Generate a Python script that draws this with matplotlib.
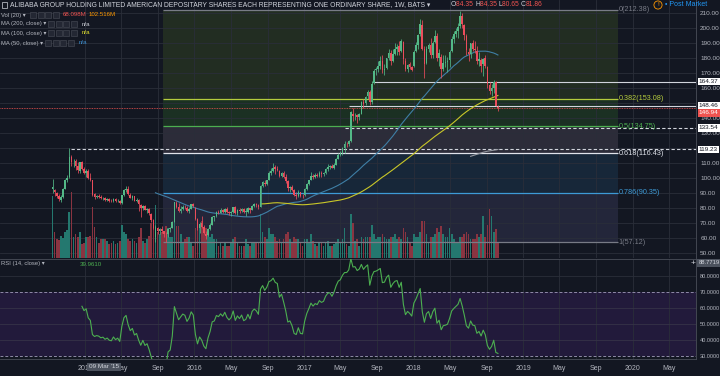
import numpy as np
import pandas as pd
import matplotlib
matplotlib.use("Agg")
import matplotlib.pyplot as plt
import matplotlib.dates as mdates
from matplotlib.patches import Rectangle
from matplotlib.transforms import blended_transform_factory

plt.rcParams['font.family'] = ['Liberation Sans', 'DejaVu Sans']

# weekly bars (Mondays) starting 2014-09-15
first_week = "2014-09-15"
opens = [
    92.7, 92.0, 89.9,  88.3, 85.1, 87.6, 93.0,  98.6, 100.5, 114.0, 111.2,  111.3, 108.0, 105.0, 110.5, 106.0,
    103.5, 104.5, 100.0, 98.5,  89.5, 87.5, 88.0, 87.6,  86.5, 86.8, 85.5, 86.0, 84.8,  84.5, 85.8, 84.5, 85.0,
    83.5, 88.5, 92.0, 93.0,  89.0, 87.0, 87.8, 85.0, 85.5,  82.0, 80.0, 81.5, 79.0,  79.5, 76.0, 72.0, 61.0, 67.0,
    64.5, 66.0, 64.5, 63.0,  62.5, 66.0, 66.8, 71.0,  83.5, 81.0, 78.0, 79.5, 81.0,  80.0, 78.0, 79.5, 82.5,
    80.0, 72.5, 66.5, 70.0,  67.5, 63.0, 62.0, 66.0, 69.0,  74.0, 74.5, 77.5, 77.0,  78.5, 77.5, 79.5, 77.5,
    76.5, 77.5, 80.5, 77.0, 79.0,  78.0, 79.5, 77.5, 77.5,  80.0, 79.0, 81.5, 82.5,  82.0, 81.0, 95.0, 97.0, 96.0,
    99.0, 103.5, 104.5, 107.5,  106.0, 105.0, 101.5, 103.5, 101.0,  98.0, 93.5, 94.0, 92.0,  88.5, 88.0, 90.5, 88.0,
    88.5, 92.5, 96.0, 99.0, 101.5,  100.5, 102.0, 101.5, 103.5,  103.0, 103.5, 106.0, 107.5,  108.0, 107.0, 109.0, 113.0,
    115.5, 116.5, 120.0, 123.0, 123.0,  125.0, 143.0, 142.0, 142.0,  141.0, 143.0, 151.0, 150.0, 154.5,
    157.5, 150.5, 163.5, 172.0,  173.0, 175.0, 178.0, 172.0,  173.5, 180.5, 183.5, 178.0, 183.0,
    186.0, 188.0, 185.0, 191.0,  178.0, 172.5, 176.0, 174.0,
    175.0, 185.0, 189.0, 196.0, 202.0,  186.0, 177.0, 186.0, 189.0,  182.0, 191.0, 195.0, 180.5,
    181.0, 173.0, 177.0, 177.5, 179.0,  185.0, 193.0, 196.0, 198.5,  201.5, 208.0, 202.0, 195.0,
    184.0, 183.0, 190.0, 186.0, 185.0,  178.0, 179.0, 176.0, 180.0,  174.0, 162.0, 158.0, 160.0,  164.0, 147.5,
]
highs = [
    99.7, 92.9, 90.4,  89.7, 88.5, 93.5, 99.6,  102.0, 120.0, 115.5, 112.9,  112.5, 110.5, 111.0, 111.5, 107.5,
    106.3, 105.8, 103.5, 99.0,  89.9, 89.0, 89.2, 88.7,  87.5, 87.4, 86.8, 86.5, 86.0,  86.5, 86.9, 85.8, 85.5,
    89.0, 92.5, 94.6, 94.5,  89.8, 88.5, 88.0, 86.5, 85.8,  83.0, 82.0, 82.0, 80.0,  80.0, 77.0, 72.5, 68.5, 67.5,
    66.5, 68.0, 65.0, 63.8,  66.5, 67.5, 71.5, 84.0,  84.5, 83.4, 81.5, 82.0, 82.2,  81.5, 80.5, 83.0, 83.3,
    80.5, 73.5, 70.5, 74.8,  69.0, 64.5, 66.5, 69.7, 74.5,  75.0, 77.8, 78.6, 79.8,  79.5, 80.0, 80.5, 78.0,
    78.3, 81.0, 81.5, 79.5, 79.8,  80.3, 79.8, 80.0, 80.5,  80.3, 82.0, 83.5, 83.5,  82.8, 95.5, 98.0, 98.5, 99.0,
    105.0, 106.5, 109.9, 108.5,  108.0, 105.5, 104.0, 104.5, 103.0,  98.6, 95.0, 95.5, 93.0,  90.5, 92.0, 91.0, 89.5,
    93.5, 96.8, 99.0, 104.0, 102.5,  103.5, 103.5, 104.5, 104.5,  104.0, 106.5, 109.5, 108.5,  109.5, 110.0, 113.5, 116.5,
    118.0, 121.0, 124.5, 124.0, 125.5,  145.0, 146.5, 143.5, 143.0,  143.5, 151.5, 153.0, 155.0, 158.5,
    158.5, 165.0, 172.5, 174.5,  178.5, 181.5, 182.0, 176.5,  180.5, 186.0, 185.5, 186.5, 190.0,
    189.5, 191.8, 193.0, 191.5,  180.0, 176.5, 177.5, 175.0,
    185.5, 191.0, 196.5, 206.2, 205.5,  188.0, 188.0, 190.0, 193.5,  191.5, 199.0, 197.0, 186.0,
    183.0, 182.0, 182.5, 181.0, 185.5,  195.0, 198.5, 200.0, 203.5,  211.7, 210.0, 203.0, 196.0,
    187.0, 190.5, 192.5, 191.5, 188.0,  184.5, 180.0, 180.5, 182.0,  175.0, 164.0, 163.0, 165.5,  164.5, 148.5,
]
lows = [
    89.95, 88.2, 86.6,  85.0, 84.1, 87.0, 92.5,  97.2, 99.8, 108.0, 107.6,  105.6, 103.5, 103.2, 105.5, 103.0,
    101.0, 99.5, 98.0, 88.0,  86.0, 86.5, 86.8, 85.8,  85.6, 84.8, 84.9, 84.2, 83.8,  84.0, 84.0, 83.8, 83.0,
    82.8, 88.0, 91.0, 88.5,  86.5, 85.5, 84.5, 84.0, 78.0,  74.0, 79.0, 78.5, 76.5,  75.5, 70.5, 66.0, 57.2, 63.0,
    63.0, 63.5, 61.0, 57.4,  60.5, 64.0, 66.5, 70.5,  80.0, 77.5, 76.5, 78.5, 79.5,  77.5, 76.5, 79.2, 80.5,
    72.0, 65.5, 63.5, 66.5,  62.5, 59.3, 61.5, 65.5, 68.5,  71.5, 74.0, 76.0, 76.5,  76.5, 77.0, 77.0, 75.5,
    75.0, 76.5, 76.0, 75.5, 76.8,  77.5, 76.5, 75.0, 76.5,  76.8, 78.5, 80.5, 80.5,  79.5, 80.5, 94.0, 94.5, 95.5,
    98.5, 102.0, 104.0, 103.0,  104.5, 100.5, 100.5, 100.0, 96.5,  91.5, 90.5, 91.5, 88.0,  86.3, 87.5, 87.5, 86.5,
    88.3, 92.0, 95.5, 98.5, 99.5,  100.0, 100.5, 100.5, 101.0,  101.5, 103.0, 105.0, 106.0,  106.5, 106.0, 108.5, 112.5,
    114.5, 115.5, 116.5, 121.0, 121.5,  124.0, 138.0, 139.0, 137.0,  138.5, 142.5, 146.5, 148.5, 153.0,
    149.0, 149.5, 162.5, 169.0,  170.5, 173.0, 170.0, 168.5,  172.5, 179.0, 175.5, 177.5, 182.0,
    182.0, 182.5, 184.5, 176.5,  171.5, 170.5, 172.5, 171.5,
    174.5, 184.0, 186.5, 195.0, 185.5,  166.5, 176.0, 184.0, 180.5,  180.5, 190.0, 178.5, 175.0,
    166.5, 171.5, 174.5, 170.5, 174.5,  184.5, 190.0, 194.5, 193.5,  200.5, 200.0, 192.5, 182.0,
    178.0, 180.5, 185.0, 183.5, 176.5,  175.0, 170.5, 168.0, 173.5,  160.0, 156.0, 155.0, 157.0,  148.0, 144.5,
]
closes = [
    93.89, 90.6, 88.1,  86.0, 87.5, 92.9, 98.6,  100.2, 114.0, 111.0, 111.6,  108.4, 105.4, 110.5, 106.0, 103.6,
    105.0, 100.0, 98.5, 89.0,  87.5, 88.0, 87.6, 86.5,  86.8, 85.5, 86.0, 84.8, 84.5,  85.8, 84.5, 85.0, 83.5,
    88.5, 92.0, 93.0, 89.5,  87.0, 87.8, 85.0, 85.5, 82.5,  80.0, 81.5, 79.0, 79.5,  76.5, 72.0, 67.0, 67.5, 65.0,
    66.0, 64.5, 63.0, 62.5,  66.0, 66.5, 70.5, 83.8,  81.0, 78.0, 79.5, 81.0, 80.5,  78.0, 79.5, 82.5, 81.3,
    72.5, 66.5, 69.5, 67.5,  63.5, 61.5, 66.0, 69.0, 74.0,  74.5, 77.5, 77.0, 78.5,  77.5, 79.5, 77.5, 76.5,
    77.5, 80.5, 77.0, 79.0, 78.0,  79.5, 77.5, 78.0, 80.0,  78.5, 81.5, 82.5, 82.0,  81.0, 94.5, 97.5, 96.0, 98.5,
    103.5, 104.5, 107.0, 105.8,  105.5, 101.5, 103.5, 101.0, 98.0,  93.5, 94.0, 92.0, 88.5,  88.0, 90.5, 88.0, 87.8,
    92.5, 96.0, 98.5, 101.5, 100.5,  101.8, 101.5, 103.5, 103.0,  103.5, 106.0, 107.5, 107.8,  107.0, 109.0, 112.5, 115.5,
    116.5, 120.0, 122.5, 122.5, 125.0,  144.0, 141.5, 142.0, 140.9,  143.0, 151.0, 149.5, 154.0, 157.5,
    150.5, 163.0, 171.5, 172.5,  175.0, 178.0, 172.0, 172.7,  180.0, 183.5, 178.0, 183.0, 186.5,
    187.5, 184.5, 191.2, 179.5,  172.5, 175.5, 174.2, 172.4,
    184.5, 189.0, 195.5, 203.0, 186.5,  176.5, 186.5, 189.0, 182.5,  190.5, 195.0, 180.0, 183.5,
    172.5, 177.0, 177.5, 178.5, 184.5,  193.0, 196.0, 198.5, 201.0,  208.5, 203.0, 195.5, 185.5,
    183.0, 190.0, 186.0, 185.5, 178.0,  179.5, 175.0, 179.5, 175.0,  163.0, 158.0, 160.0, 164.4,  148.46, 146.94,
]
volume_m = [
    280, 120, 85,  80, 100, 90, 120,  125, 210, 300, 95,  110, 95, 120, 65, 70,
    95, 95, 100, 230,  140, 95, 70, 85,  85, 85, 75, 65, 70,  75, 65, 70, 75,
    150, 120, 110, 85,  75, 85, 75, 70, 95,  135, 75, 70, 85,  100, 160, 170, 240, 120,
    110, 120, 120, 145,  135, 95, 95, 230,  145, 145, 110, 70, 85,  95, 95, 70, 55,
    135, 160, 145, 170,  135, 135, 110, 95, 110,  85, 85, 55, 70,  55, 70, 55, 55,
    70, 85, 95, 70, 55,  55, 55, 85, 65,  55, 70, 70, 70,  70, 200, 120, 95, 85,
    135, 110, 110, 95,  75, 85, 70, 85, 110,  120, 85, 70, 95,  85, 85, 70, 55,
    85, 85, 70, 110, 75,  65, 55, 70, 70,  55, 70, 75, 55,  55, 65, 70, 85,
    70, 85, 135, 65, 55,  200, 160, 75, 85,  55, 95, 85, 95, 95,
    95, 150, 110, 85,  95, 95, 110, 95,  85, 85, 95, 95, 110,
    85, 95, 85, 135,  120, 95, 70, 55,
    110, 95, 95, 120, 170,  170, 110, 70, 95,  95, 110, 135, 120,
    145, 110, 95, 95, 135,  110, 85, 70, 70,  95, 95, 110, 120,
    110, 85, 85, 85, 110,  95, 110, 190, 95,  150, 220, 190, 120,  130, 68.098,
]

# fibonacci retracement
fib_ratios = ["0", "0.382", "0.5", "0.618", "0.786", "1"]
fib_prices = [212.38, 153.08, 134.75, 116.43, 90.35, 57.12]
fib_start, fib_end = "2015-09-18", "2019-11-12"

# other horizontal levels (price, start date)
solid_levels = [(164.37, "2017-08-14"), (148.46, "2017-05-30")]
dashed_levels = [(133.54, "2017-05-15"), (119.23, "2014-11-14")]
last_price = 146.94

# right-axis price tags: value, where the tag sits, fill, text colour
price_tags = [(164.37, 164.37, "white", "#131722"), (148.46, 148.46, "white", "#131722"),
              (146.94, 143.6, "#ef5350", "white"), (133.54, 133.54, "white", "#131722"),
              (119.23, 119.23, "white", "#131722")]
hidden_ticks = [120, 150]

tick_dates = ["2015-01-01", "2015-05-01", "2015-09-01", "2016-01-01", "2016-05-01", "2016-09-01",
              "2017-01-01", "2017-05-01", "2017-09-01", "2018-01-01", "2018-05-01", "2018-09-01",
              "2019-01-01", "2019-05-01", "2019-09-01", "2020-01-01", "2020-05-01"]
tick_labels = ["2015", "May", "Sep", "2016", "May", "Sep", "2017", "May", "Sep",
               "2018", "May", "Sep", "2019", "May", "Sep", "2020", "May"]

BG = "#131722"
GRID = "#2a2e39"
TXT = "#b2b5be"
UP, DOWN = "#53b987", "#eb4d5c"

weeks = pd.date_range(first_week, periods=len(closes), freq="W-MON")
xd = mdates.date2num(weeks)
o = np.array(opens); h = np.array(highs); l = np.array(lows); c = np.array(closes)
vol = np.array(volume_m)
cs = pd.Series(c)
ma50 = cs.rolling(50).mean()
ma100 = cs.rolling(100).mean()
ma200 = cs.rolling(200).mean()

# RSI 14, Wilder smoothing seeded with a simple average
chg = np.diff(c)
up_m = np.clip(chg, 0, None)
dn_m = np.clip(-chg, 0, None)
rsi = np.full(len(c), np.nan)
ag, al = up_m[:14].mean(), dn_m[:14].mean()
rsi[14] = 100 - 100 / (1 + ag / al)
for i in range(15, len(c)):
    ag = (ag * 13 + up_m[i - 1]) / 14
    al = (al * 13 + dn_m[i - 1]) / 14
    rsi[i] = 100 - 100 / (1 + ag / al)

W, H = 720, 376
fig = plt.figure(figsize=(W / 100, H / 100), dpi=100, facecolor=BG)
renderer = fig.canvas.get_renderer()


def px(x, y):
    return x / W, 1 - y / H


def ftext(x, y, s, color=TXT, size=5, **kw):
    return fig.text(*px(x, y), s, color=color, fontsize=size, va="center", **kw)


def chain(x, y, pieces, size):
    # draw coloured pieces one after another on one line
    for s, col in pieces:
        t = ftext(x, y, s, color=col, size=size)
        x += t.get_window_extent(renderer).width


rect_p = [0, (H - 258) / H, 696 / W, 258 / H]
ax_bg = fig.add_axes(rect_p, zorder=0)
ax_v = fig.add_axes(rect_p, zorder=1)
ax_p = fig.add_axes(rect_p, zorder=2)
ax_r = fig.add_axes([0, 17 / H, 696 / W, 100 / H], zorder=2)

x0 = mdates.date2num(pd.Timestamp("2014-03-24"))
x1 = mdates.date2num(pd.Timestamp("2020-07-29"))
ylo, yhi = 46.65, 218.9
for a in (ax_bg, ax_v, ax_p, ax_r):
    a.set_xlim(x0, x1)
    for s in a.spines.values():
        s.set_visible(False)
for a in (ax_bg, ax_p):
    a.set_ylim(ylo, yhi)
ax_bg.set_facecolor(BG)
ax_v.patch.set_visible(False)
ax_p.patch.set_visible(False)
ax_v.set_ylim(0, 1170)
ax_v.set_xticks([]); ax_v.set_yticks([])
ax_bg.set_xticks([]); ax_bg.set_yticks([])

tx = mdates.date2num(pd.to_datetime(tick_dates))

# background: fib zones + grid
fx0 = mdates.date2num(pd.Timestamp(fib_start))
fx1 = mdates.date2num(pd.Timestamp(fib_end))
zone_colors = ["#222d22", "#1b3023", "#2c2c39", "#172739", "#23263a"]
for i, zc in enumerate(zone_colors):
    top, bot = fib_prices[i], fib_prices[i + 1]
    ax_bg.add_patch(Rectangle((fx0, bot), fx1 - fx0, top - bot, color=zc, lw=0, zorder=0))
for t in tx:
    ax_bg.axvline(t, color=GRID, lw=0.6, zorder=1)
for p in range(50, 220, 10):
    ax_bg.axhline(p, color=GRID, lw=0.6, zorder=1)

# volume
vcol = np.where(c >= o, "#24786f", "#8a3441")
ax_v.bar(xd, vol, width=5.6, color=vcol, lw=0)

# fib lines and labels
fib_colors = ["#787b86", "#b5cc3d", "#4caf50", "#e0e3eb", "#3d9ad6", "#787b86"]
for r, p, fc in zip(fib_ratios, fib_prices, fib_colors):
    ax_p.hlines(p, fx0, fx1, color=fc, lw=0.9, zorder=2)
    ax_p.text(fx1 + 3, p, f"{r}({p:.2f})", color=fc, fontsize=5.2, va="center", ha="left", zorder=6)

for p, d in solid_levels:
    ax_p.hlines(p, mdates.date2num(pd.Timestamp(d)), x1, color="#d1d4dc", lw=0.8, zorder=2)
for p, d in dashed_levels:
    ax_p.hlines(p, mdates.date2num(pd.Timestamp(d)), x1, color="#d1d4dc", lw=0.8,
                linestyles=(0, (3, 2)), zorder=2)
ax_p.axhline(last_price, color="#ef5350", lw=0.6, ls=(0, (1, 1)), zorder=2)

# moving averages
ax_p.plot(xd, ma50, color="#3f7fa6", lw=0.8, zorder=3)
ax_p.plot(xd, ma100, color="#c9c728", lw=0.8, zorder=3)
ax_p.plot(xd, ma200, color="#9598a1", lw=0.8, zorder=3)

# candles
ccol = np.where(c >= o, UP, DOWN)
ax_p.vlines(xd, l, h, colors=ccol, lw=0.55, zorder=4)
body = np.maximum(np.abs(c - o), 0.3)
ax_p.bar(xd, body, bottom=np.minimum(o, c), width=5.4, color=ccol, lw=0, zorder=5)

# price axis
price_ticks = list(range(50, 220, 10))
ax_p.yaxis.tick_right()
ax_p.set_yticks(price_ticks)
ax_p.set_yticklabels(["" if v in hidden_ticks else f"{v:.2f}" for v in price_ticks])
ax_p.tick_params(axis="y", length=0, pad=3, labelsize=4.6, labelcolor=TXT)
ax_p.set_xticks([])
ax_p.spines["right"].set_visible(True)
ax_p.spines["right"].set_color("#4a4e59")
ax_p.spines["right"].set_linewidth(0.6)

bt = blended_transform_factory(ax_p.transAxes, ax_p.transData)
for val, ypos, fc, tc in price_tags:
    ax_p.text(1.004, ypos, f"{val:.2f}", transform=bt, fontsize=4.6, color=tc, va="center", ha="left",
              bbox=dict(boxstyle="square,pad=0.2", fc=fc, ec="none"), zorder=10, clip_on=False)

# RSI pane
ax_r.set_facecolor(BG)
ax_r.set_ylim(28.1, 90.4)
ax_r.axhspan(30, 70, color="#221a3b", lw=0, zorder=0)
for t in tx:
    ax_r.axvline(t, color=GRID, lw=0.6, zorder=1)
for v in (40, 50, 60, 80):
    ax_r.axhline(v, color="#363248" if v < 70 else GRID, lw=0.6, zorder=1)
for v in (30, 70):
    ax_r.axhline(v, color="#8f8aa8", lw=0.7, ls=(0, (3, 2)), zorder=2)
ax_r.plot(xd, rsi, color="#4caf50", lw=0.8, zorder=3)
ax_r.yaxis.tick_right()
ax_r.set_yticks([30, 40, 50, 60, 70, 80])
ax_r.set_yticklabels([f"{v:.4f}" for v in (30, 40, 50, 60, 70, 80)])
ax_r.tick_params(axis="y", length=0, pad=2.5, labelsize=4.0, labelcolor=TXT)
ax_r.set_xticks(tx)
ax_r.set_xticklabels(tick_labels)
ax_r.tick_params(axis="x", length=0, pad=4, labelsize=5, labelcolor=TXT)
for side in ("right", "top", "bottom"):
    ax_r.spines[side].set_visible(True)
    ax_r.spines[side].set_color("#4a4e59")
    ax_r.spines[side].set_linewidth(0.6)

# header / legends
fig.add_artist(Rectangle(px(2, 8), 5 / W, 6 / H, transform=fig.transFigure, fc="none", ec=TXT, lw=0.6))
ftext(10, 5, "ALIBABA GROUP HOLDING LIMITED AMERICAN DEPOSITARY SHARES EACH REPRESENTING ONE "
             "ORDINARY SHARE, 1W, BATS \u25be", color="#d1d4dc", size=4.85)
chain(451, 5, [("O", "#d1d4dc"), ("84.35 ", "#ef5350"), ("H", "#d1d4dc"), ("84.35 ", "#ef5350"),
               ("L", "#d1d4dc"), ("80.65 ", "#ef5350"), ("C", "#d1d4dc"), ("81.86", "#ef5350")], 4.85)
fig.text(*px(658, 5), "!", color="#ff9800", fontsize=4.5, ha="center", va="center",
         bbox=dict(boxstyle="circle,pad=0.25", fc="none", ec="#ff9800", lw=0.6))
ftext(665, 5, "\u2022 Post Market", color="#2196f3", size=5.0)


def icon_boxes(x, y):
    for k in range(4):
        fig.add_artist(Rectangle(px(x + k * 7.5, y + 3), 6 / W, 6 / H, transform=fig.transFigure,
                                 fc="#232733", ec="#4a4e59", lw=0.4))


legend_rows = [
    (15, "Vol (20) \u25be", 30),
    (24, "MA (200, close) \u25be", 48),
    (33, "MA (100, close) \u25be", 48),
    (43, "MA (50, close) \u25be", 45),
    (264, "RSI (14, close) \u25be", 45),
]
for y, lab, bx in legend_rows:
    ftext(1, y, lab, size=4.2)
    icon_boxes(bx, y)
ftext(63, 15, "68.098M", color="#ef5350", size=4.4)
ftext(89, 15, "102.516M", color="#ff9800", size=4.4)
ftext(82, 24, "n/a", color="#d1d4dc", size=4.4)
ftext(82, 33, "n/a", color="#e6e62e", size=4.4)
ftext(79, 43, "n/a", color="#3d8fd1", size=4.4)
ftext(80, 264, "39.9610", color="#4caf50", size=4.4)

# crosshair labels
fig.text(*px(104, 367), "09 Mar '15", color="#d1d4dc", fontsize=4.6, ha="center", va="center",
         bbox=dict(boxstyle="square,pad=0.25", fc="#4c525e", ec="none"))
fig.text(*px(709, 263), "88.7719", color="#d1d4dc", fontsize=4.2, ha="center", va="center",
         bbox=dict(boxstyle="square,pad=0.2", fc="#4c525e", ec="none"))
ftext(691, 263, "+", color="#d1d4dc", size=6)

fig.savefig("out.png", dpi=100, facecolor=BG)
